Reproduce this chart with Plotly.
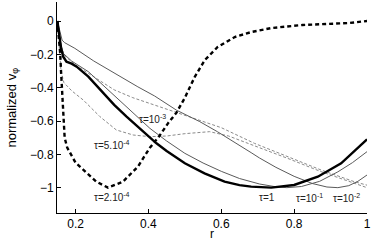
import plotly.graph_objects as go

# tau = 1 (thick solid)
r_t1 = [0.150, 0.155, 0.160, 0.166, 0.175, 0.189, 0.203, 0.235, 0.275, 0.306, 0.340, 0.371, 0.400,
        0.422, 0.450, 0.486, 0.500, 0.554, 0.609, 0.650, 0.682, 0.737, 0.800, 0.865, 0.929, 1.000]
v_t1 = [0.000, -0.080, -0.160, -0.214, -0.244, -0.256, -0.274, -0.334, -0.430, -0.503, -0.574, -0.635, -0.690,
        -0.734, -0.780, -0.830, -0.854, -0.914, -0.964, -0.985, -0.994, -1.000, -0.984, -0.934, -0.854, -0.710]

# tau = 1e-1 (thin solid)
r_t2 = [0.150, 0.158, 0.166, 0.189, 0.235, 0.310, 0.350, 0.404, 0.450, 0.500, 0.550, 0.600, 0.650,
        0.705, 0.750, 0.780, 0.820, 0.870, 0.920, 0.960, 1.000]
v_t2 = [0.000, -0.120, -0.194, -0.240, -0.304, -0.455, -0.535, -0.644, -0.720, -0.794, -0.852, -0.902, -0.945,
        -0.978, -0.995, -1.000, -0.993, -0.962, -0.905, -0.850, -0.784]

# tau = 1e-2 (thin solid)
r_t3 = [0.150, 0.158, 0.163, 0.170, 0.198, 0.250, 0.306, 0.371, 0.417, 0.477, 0.541, 0.590, 0.682,
        0.705, 0.750, 0.800, 0.850, 0.890, 0.920, 0.950, 0.975, 1.000]
v_t3 = [0.000, -0.080, -0.115, -0.130, -0.164, -0.240, -0.313, -0.395, -0.450, -0.535, -0.604, -0.665, -0.790,
        -0.822, -0.878, -0.932, -0.975, -0.996, -1.000, -0.988, -0.962, -0.924]

# tau = 1e-3 (gray dashed)
r_t4 = [0.150, 0.160, 0.170, 0.204, 0.235, 0.306, 0.357, 0.404, 0.477, 0.541, 0.600, 0.691, 0.782,
        0.874, 0.965, 1.000]
v_t4 = [0.000, -0.150, -0.210, -0.270, -0.314, -0.413, -0.460, -0.495, -0.545, -0.593, -0.640, -0.734, -0.814,
        -0.894, -0.964, -0.985]

# tau = 5e-4 (gray dashed)
r_t5 = [0.150, 0.155, 0.160, 0.168, 0.190, 0.221, 0.267, 0.312, 0.358, 0.404, 0.450, 0.500, 0.568,
        0.620, 0.680, 0.782, 0.874, 0.965, 1.000]
v_t5 = [0.000, -0.150, -0.300, -0.370, -0.420, -0.474, -0.574, -0.654, -0.684, -0.694, -0.690, -0.676, -0.664,
        -0.690, -0.738, -0.824, -0.904, -0.976, -1.000]

# tau = 2e-4 (thick dashed)
r_t6 = [0.150, 0.155, 0.158, 0.160, 0.162, 0.164, 0.166, 0.170, 0.177, 0.184, 0.200, 0.220, 0.257,
        0.289, 0.330, 0.371, 0.404, 0.430, 0.455, 0.477, 0.500, 0.527, 0.555, 0.590, 0.637, 0.683,
        0.738, 0.823, 0.905, 0.951, 1.000]
v_t6 = [0.000, -0.100, -0.200, -0.300, -0.400, -0.500, -0.600, -0.700, -0.760, -0.790, -0.850, -0.890, -0.964,
        -1.000, -0.964, -0.874, -0.760, -0.690, -0.610, -0.550, -0.460, -0.336, -0.234, -0.156, -0.096, -0.066,
        -0.042, -0.024, -0.018, -0.012, 0.000]

label_text = ["τ=10<sup>-3</sup>", "τ=5.10<sup>-4</sup>", "τ=2.10<sup>-4</sup>",
              "τ=1", "τ=10<sup>-1</sup>", "τ=10<sup>-2</sup>"]
label_r = [0.41, 0.30, 0.30, 0.725, 0.842, 0.945]
label_v = [-0.585, -0.745, -1.055, -1.06, -1.06, -1.06]

x_ticks = [0.2, 0.4, 0.6, 0.8, 1.0]
x_ticktext = ["0.2", "0.4", "0.6", "0.8", "1"]
y_ticks = [0, -0.2, -0.4, -0.6, -0.8, -1]

fig = go.Figure()
fig.add_trace(go.Scatter(x=r_t4, y=v_t4, mode="lines", line=dict(color="#8a8a8a", width=1, dash="3px,2px")))
fig.add_trace(go.Scatter(x=r_t5, y=v_t5, mode="lines", line=dict(color="#8a8a8a", width=1, dash="3px,2px")))
fig.add_trace(go.Scatter(x=r_t3, y=v_t3, mode="lines", line=dict(color="#5a5a5a", width=1)))
fig.add_trace(go.Scatter(x=r_t2, y=v_t2, mode="lines", line=dict(color="#5a5a5a", width=1)))
fig.add_trace(go.Scatter(x=r_t1, y=v_t1, mode="lines", line=dict(color="black", width=2.4)))
fig.add_trace(go.Scatter(x=r_t6, y=v_t6, mode="lines", line=dict(color="black", width=2.4, dash="4px,3px")))

for t, x, y in zip(label_text, label_r, label_v):
    fig.add_annotation(x=x, y=y, text=t, showarrow=False, font=dict(size=10, color="#222"))

# axis titles
fig.add_annotation(text="r", xref="paper", yref="paper", x=0.5, y=-0.10, yanchor="middle",
                   showarrow=False, font=dict(size=12))
fig.add_annotation(text="normalized v<sub>φ</sub>", xref="paper", yref="paper", x=-0.145, y=0.5,
                   xanchor="center", yanchor="middle",
                   textangle=-90, showarrow=False, font=dict(size=13))

fig.update_layout(
    width=374, height=242,
    margin=dict(l=57, r=7, t=2, b=29, autoexpand=False),
    paper_bgcolor="white", plot_bgcolor="white",
    showlegend=False,
    font=dict(family="Liberation Sans, Arial, sans-serif", color="black", size=12),
    xaxis=dict(range=[0.149, 1.0], tickvals=x_ticks, ticktext=x_ticktext, automargin=False,
               showgrid=False, zeroline=False, showline=True, linecolor="black", linewidth=1,
               ticks="inside", ticklen=4, tickcolor="black"),
    yaxis=dict(range=[-1.152, 0.114], tickvals=y_ticks, automargin=False,
               showgrid=False, zeroline=False, showline=True, linecolor="black", linewidth=1,
               ticks="inside", ticklen=4, tickcolor="black"),
)
fig.write_html("out.html", config={"displayModeBar": False},
               post_script="document.body.style.margin='0';document.body.style.overflow='hidden';")
